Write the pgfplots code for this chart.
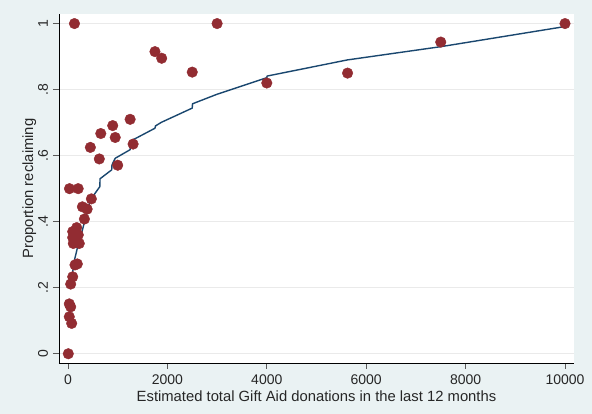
\documentclass[border=0pt]{standalone}
\usepackage{pgfplots}
\pgfplotsset{compat=1.18}
\usepackage{fontspec}
\setmainfont{Liberation Sans}

\definecolor{graphbg}{RGB}{234,242,243}
\definecolor{dotred}{RGB}{146,44,50}
\definecolor{fitblue}{RGB}{26,71,111}
\definecolor{gridgray}{RGB}{234,234,234}

% Observed proportions by estimated donations
\pgfplotstableread{
x y
130 1.0
3000 1.0
10000 1.0
7500 0.944
5625 0.850
4000 0.820
2500 0.853
1750 0.915
1885 0.895
1250 0.710
900 0.691
660 0.667
950 0.655
450 0.625
1310 0.635
630 0.590
1000 0.571
30 0.500
205 0.500
470 0.469
290 0.445
385 0.438
330 0.408
95 0.370
175 0.382
95 0.352
207 0.360
107 0.334
227 0.334
141 0.269
187 0.272
95 0.233
54 0.211
26 0.151
54 0.142
26 0.112
74 0.092
6 0.000
}\obsdata

% Fitted values
\pgfplotstableread{
x y
75 0.228
130 0.284
195 0.324
275 0.365
340 0.405
450 0.466
640 0.506
645 0.530
880 0.557
885 0.572
950 0.592
1250 0.618
1270 0.645
1750 0.683
1760 0.690
1880 0.701
2500 0.744
2505 0.757
3000 0.786
4000 0.836
4005 0.841
5625 0.890
7500 0.930
10000 0.991
}\fitdata

\begin{document}
\begin{tikzpicture}[x=1pt,y=1pt]
\fill[graphbg] (-59,-51) rectangle (533,363);
\begin{axis}[
  at={(0,0)}, anchor=south west,
  scale only axis, width=515pt, height=349pt,
  xmin=-181, xmax=10181, ymin=-0.028, ymax=1.029,
  axis background/.style={fill=white},
  axis x line*=bottom, axis y line*=left,
  axis line style={black, line width=0.8pt, -},
  tick align=outside, major tick length=6pt,
  every tick/.style={black!65, line width=0.8pt},
  scaled x ticks=false,
  xtick={0,2000,4000,6000,8000,10000},
  xticklabels={0,2000,4000,6000,8000,10000},
  ytick={0,0.2,0.4,0.6,0.8,1},
  yticklabels={0,.2,.4,.6,.8,1},
  ymajorgrids, grid style={gridgray, line width=0.8pt},
  tick label style={font=\fontsize{14}{16}\selectfont, text=black!85},
  xticklabel shift=2pt,
  yticklabel shift=1.5pt,
  yticklabel style={rotate=90, anchor=south},
  label style={font=\fontsize{14.8}{17}\selectfont, text=black!85},
  xlabel style={yshift=1pt},
  ylabel shift=-5pt,
  xlabel={Estimated total Gift Aid donations in the last 12 months},
  ylabel={Proportion reclaiming},
  clip=false,
]
\addplot[only marks, mark=*, mark size=5.3pt, mark options={fill=dotred, draw=dotred}]
  table {\obsdata};
\addplot[fitblue, line width=1.4pt, line join=round] table {\fitdata};
\end{axis}
\end{tikzpicture}
\end{document}
